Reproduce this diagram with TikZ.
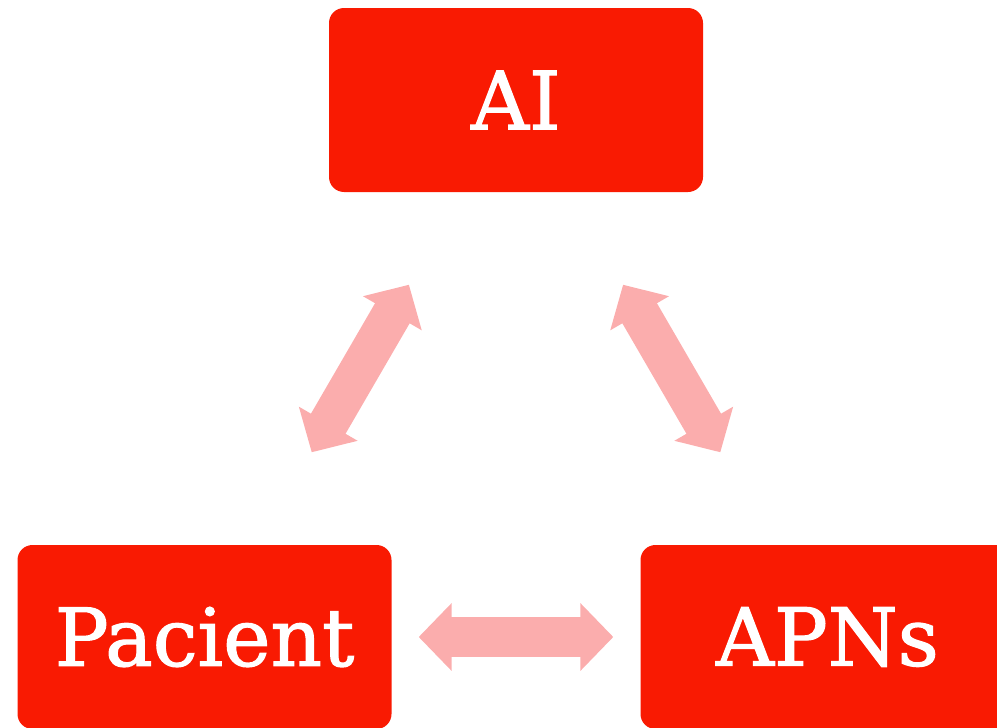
\documentclass[tikz,border=0pt]{standalone}
\usepackage{fontspec}
\setmainfont{DejaVu Serif}
\newfontfamily\boxfont{DejaVu Serif}[FakeBold=1.5]
\usetikzlibrary{arrows.meta}
\definecolor{boxred}{RGB}{249,26,2}
\definecolor{arrowpink}{RGB}{251,173,173}
\tikzset{
  redbox/.style={fill=boxred, text=white, rounded corners=15pt, minimum width=374pt, minimum height=184pt, inner sep=0pt, font=\boxfont\fontsize{80}{90}\selectfont},
  duplex/.style={draw=arrowpink, line width=40pt, {Triangle[length=33pt,width=66pt]}-{Triangle[length=33pt,width=66pt]}}
}
\begin{document}
\begin{tikzpicture}[x=1pt,y=1pt,yscale=-1]
%set diagram to the size of the reference
\clip (0,0) rectangle (997,728);

%Shape: Rounded Rectangle [ai]
\node[redbox] (ai) at (516,100) {AI};
%Shape: Rounded Rectangle [pacient]
\node[redbox] (pacient) at (204.5,637) {Pacient};
%Shape: Rounded Rectangle [apns]
\node[redbox] (apns) at (827.5,637) {APNs};

%Double Arrows
\draw[duplex, shorten <=107pt, shorten >=107pt] (ai) -- (pacient);
\draw[duplex, shorten <=107pt, shorten >=107pt] (ai) -- (apns);
\draw[duplex, shorten <=27pt, shorten >=27pt] (pacient) -- (apns);

\end{tikzpicture}
\end{document}
